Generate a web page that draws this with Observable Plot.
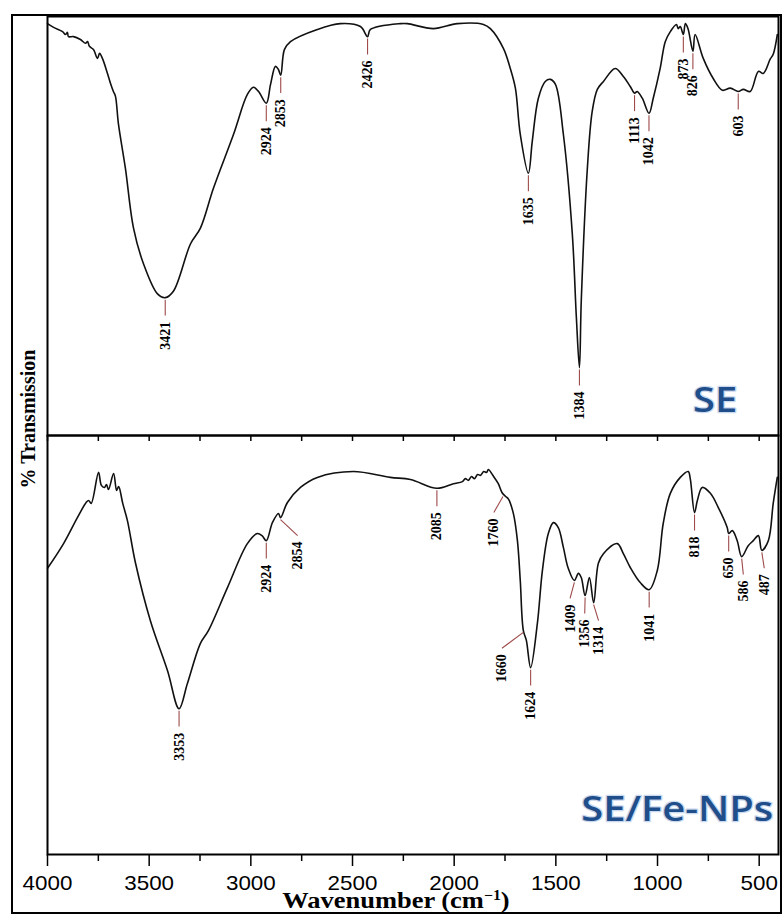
<!DOCTYPE html>
<html><head><meta charset="utf-8">
<script src="https://cdn.jsdelivr.net/npm/d3@7"></script>
<script src="https://cdn.jsdelivr.net/npm/@observablehq/plot@0.6"></script>
<style>
body{margin:0;background:#fff;}
#wrap{position:relative;width:782px;height:915px;overflow:hidden;background:#fff}
#chart{position:absolute;left:0;top:0}
#outer{position:absolute;left:11px;top:14px;width:771px;height:900px;border:2px solid #000;box-sizing:border-box;pointer-events:none}
#ylab{position:absolute;left:28px;top:419px;transform:translate(-50%,-50%) rotate(-90deg);font:bold 20px "Liberation Serif","Times New Roman",serif;white-space:nowrap;line-height:20px}
#xlab{position:absolute;left:396px;top:889px;transform:translateX(-50%) scaleX(1.15);font:bold 23px "Liberation Serif","Times New Roman",serif;white-space:nowrap;line-height:23px}
#xlab sup{font-size:0.6em;line-height:0;vertical-align:0.55em}
</style></head>
<body><div id="wrap"><div id="chart"></div><div id="outer"></div><div id="ylab">% Transmission</div><div id="xlab">Wavenumber (cm<sup>−1</sup>)</div></div>
<script>
const panels = ["SE", "SE/Fe-NPs"];

// [wavenumber (cm-1), relative % transmission within the panel]
const seSpectrum = [
[4000,98.3],[3970,97.4],[3926,96.4],[3912,95.7],[3902,96.2],[3897,95.2],[3872,95.2],[3838,94.5],[3813,93.6],[3803,94.0],
[3794,92.9],[3774,92.1],[3754,90.0],[3744,91.2],[3730,90.0],[3705,86.4],[3690,84.0],[3676,82.1],[3666,81.0],[3651,74.3],
[3617,63.8],[3577,49.5],[3528,41.0],[3459,33.8],[3421,32.9],[3380,34.5],[3297,45.7],[3248,49.5],[3184,59.0],[3085,71.9],
[3017,81.4],[2987,83.1],[2962,82.1],[2924,79.3],[2903,83.8],[2879,88.1],[2865,87.4],[2853,86.0],[2835,92.1],[2805,94.0],
[2673,96.9],[2560,98.3],[2461,97.6],[2426,95.2],[2412,96.9],[2264,98.3],[2230,98.3],[2102,97.1],[1984,98.3],[1856,98.1],
[1822,97.1],[1758,92.4],[1724,87.6],[1699,82.9],[1675,71.9],[1635,62.6],[1616,70.2],[1586,80.5],[1552,84.5],[1527,85.0],
[1502,83.8],[1463,71.9],[1419,48.1],[1399,28.1],[1384,16.2],[1375,32.1],[1345,63.8],[1321,77.4],[1296,82.6],[1266,84.5],
[1208,87.6],[1168,85.7],[1134,83.3],[1113,81.7],[1100,82.1],[1075,80.5],[1042,76.9],[1021,80.5],[987,87.6],[962,94.0],
[937,96.4],[907,98.1],[898,97.1],[888,97.6],[873,95.7],[863,98.3],[850,97.1],[826,91.7],[815,95.7],[775,90.0],
[726,85.2],[681,82.4],[642,82.9],[603,82.1],[578,82.6],[544,82.1],[504,86.9],[480,86.4],[446,89.8],[431,91.0],[411,95.7]
];

const npSpectrum = [
[4000,68.3],[3921,74.2],[3853,80.4],[3810,84.0],[3798,84.5],[3785,83.8],[3749,91.2],[3735,88.1],[3720,87.6],[3710,88.3],
[3700,87.1],[3675,90.9],[3660,86.9],[3650,87.8],[3630,83.8],[3607,79.7],[3567,69.5],[3494,55.8],[3410,43.9],[3353,34.8],
[3312,40.8],[3248,50.4],[3208,53.5],[3115,63.7],[3017,74.2],[2968,76.6],[2945,76.1],[2924,74.9],[2894,79.2],[2864,81.4],
[2854,80.4],[2820,84.0],[2756,87.6],[2673,90.0],[2496,91.4],[2314,90.0],[2215,89.5],[2085,87.4],[2004,88.5],[1960,89.0],
[1945,89.7],[1930,89.3],[1915,90.2],[1900,89.7],[1885,90.7],[1870,90.5],[1855,91.4],[1840,91.2],[1832,91.9],[1810,90.5],
[1783,88.5],[1765,86.4],[1748,85.5],[1733,84.8],[1709,81.4],[1689,74.9],[1675,65.4],[1660,53.5],[1645,51.1],[1624,44.6],
[1591,55.1],[1566,67.8],[1537,76.6],[1512,79.2],[1488,78.0],[1463,73.3],[1439,68.3],[1409,65.4],[1389,67.1],[1375,66.1],
[1356,61.8],[1335,66.1],[1314,60.1],[1291,69.5],[1266,71.8],[1198,74.2],[1168,71.8],[1134,68.5],[1085,64.9],[1041,63.2],
[1001,67.8],[972,79.0],[937,86.2],[888,90.0],[849,91.4],[839,89.7],[818,81.6],[804,84.5],[780,87.6],[740,86.2],
[701,82.8],[657,78.0],[650,76.6],[632,77.3],[608,74.9],[586,71.1],[554,73.7],[529,74.9],[504,76.1],[487,72.6],
[455,74.9],[431,83.8],[411,90.0]
];

// [label, peak wavenumber, transmission at peak, wavenumber where label sits]
const sePeaks = [
["3421",3421,32.9,3421],["2924",2924,79.3,2924],["2853",2853,86.0,2853],["2426",2426,95.2,2426],
["1635",1635,62.6,1635],["1384",1384,16.2,1384],["1113",1113,81.7,1113],["1042",1042,76.9,1042],
["873",873,95.7,873],["826",826,91.7,826],["603",603,82.1,603]
];
const npPeaks = [
["3353",3353,34.8,3353],["2924",2924,74.9,2924],["2854",2854,80.4,2770],["2085",2085,87.4,2085],
["1760",1760,85.9,1805],["1660",1660,53.5,1765],["1624",1624,44.6,1624],["1409",1409,65.4,1430],
["1356",1356,61.8,1358],["1314",1314,60.1,1290],["1041",1041,63.2,1041],["818",818,81.6,818],
["650",650,76.6,650],["586",586,71.1,578],["487",487,72.6,475]
];

const xMajorTicks = [4000,3500,3000,2500,2000,1500,1000,500];
const xMinorTicks = [3750,3250,2750,2250,1750,1250,750];
const xTickLabels = ["4000","3500","3000","2500","2000","1500","1000","500"];

const lines = [
  ...seSpectrum.map(([w, t]) => ({panel: panels[0], w, t})),
  ...npSpectrum.map(([w, t]) => ({panel: panels[1], w, t}))
];
const peaks = [
  ...sePeaks.map(([label, w, t, lw]) => ({panel: panels[0], label, w, t, lw})),
  ...npPeaks.map(([label, w, t, lw]) => ({panel: panels[1], label, w, t, lw}))
];

const chart = Plot.plot({
  width: 782, height: 915,
  marginTop: 15, marginLeft: 47, marginRight: 4, marginBottom: 61,
  style: {background: "transparent", overflow: "visible"},
  x: {domain: [4000, 405]},
  y: {domain: [0, 100], axis: null},
  fy: {domain: panels, padding: 0, axis: null},
  marks: [
    Plot.axisX(xMajorTicks, {anchor: "bottom", tickSize: 12, tickPadding: 9, strokeWidth: 1.5,
      tickFormat: (d, i) => xTickLabels[i],
      fontSize: 20, fontFamily: "Liberation Sans, Arial, sans-serif", fill: "#000", label: null}),
    Plot.axisX(xMinorTicks, {anchor: "bottom", tickSize: 7, strokeWidth: 1.5, tickFormat: () => "", label: null}),
    Plot.axisX([...xMajorTicks, ...xMinorTicks], {anchor: "bottom", facetAnchor: "top", tickSize: 6, strokeWidth: 1.5,
      tickFormat: () => "", label: null}),
    Plot.line(lines, {x: "w", y: "t", fy: "panel", z: "panel", stroke: "#111", strokeWidth: 1.6, curve: "catmull-rom"}),
    Plot.link(peaks, {x1: "w", y1: "t", x2: "lw", y2: d => d.t - 3.8, fy: "panel", stroke: "#9e4a4a", strokeWidth: 1.1, dy: 2}),
    Plot.text(peaks, {x: "lw", y: "t", dy: 24, text: "label", fy: "panel", rotate: -90, textAnchor: "end", lineAnchor: "middle",
      fontSize: 14, fontWeight: "bold", fontFamily: "Liberation Serif, Times New Roman, serif", fill: "#000"}),
    Plot.text(panels, {fy: d => d, text: d => d, x: d => d === "SE" ? 608 : 431, y: d => d === "SE" ? 5.7 : 8.1,
      textAnchor: "end", lineAnchor: "bottom", fontSize: 35, fontWeight: 600, fontFamily: "Open Sans, Noto Sans, sans-serif",
      fill: "#1f4e8a", stroke: "#cbd9ee", strokeWidth: 2.5}),
    Plot.frame({stroke: "#000", strokeWidth: 2})
  ]
});
document.getElementById("chart").appendChild(chart);

// widen horizontal texts slightly about their anchor point (the reference image is horizontally stretched)
function stretch(nodes, k) {
  nodes.each(function() {
    const t = this.getAttribute("transform") || "";
    const x = parseFloat(this.getAttribute("x"));
    const cx = isFinite(x) ? x : 0;
    this.setAttribute("transform", `${t} translate(${cx},0) scale(${k},1) translate(${-cx},0)`.trim());
  });
}
const svg = d3.select(chart);
stretch(svg.selectAll("text").filter(function() { return panels.includes(this.textContent); }), 1.14);
stretch(svg.selectAll("text").filter(function() {
  return xTickLabels.includes(this.textContent) && !(this.getAttribute("transform") || "").includes("rotate");
}), 1.12);
</script>
</body></html>
